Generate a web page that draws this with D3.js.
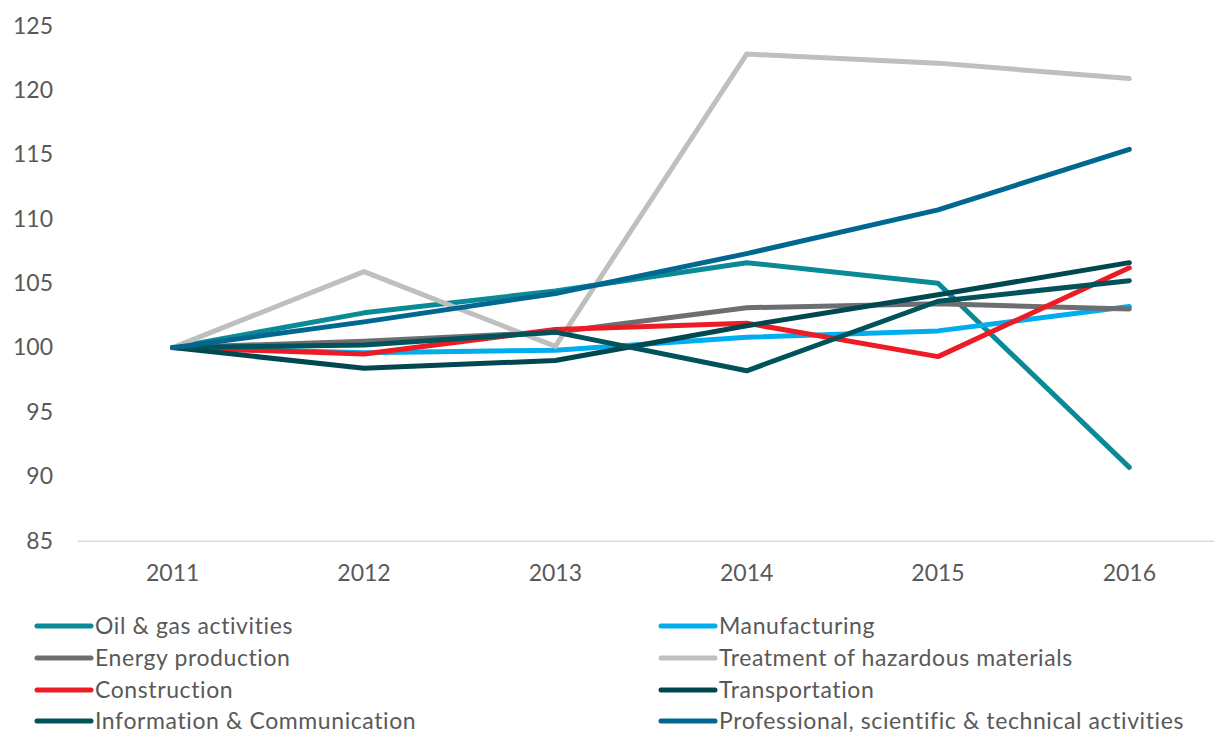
<!DOCTYPE html>
<html>
<head>
<meta charset="utf-8">
<script src="https://cdn.jsdelivr.net/npm/d3@7"></script>
<style>
  html, body { margin: 0; padding: 0; background: #ffffff; }
  svg { display: block; }
  text { font-family: Lato, "Open Sans", sans-serif; fill: #595959; }
</style>
</head>
<body>
<svg id="chart" width="1214" height="733"></svg>
<script>
const years = ["2011", "2012", "2013", "2014", "2015", "2016"];
const yTicks = [85, 90, 95, 100, 105, 110, 115, 120, 125];

const seriesNames = [
  "Oil & gas activities",
  "Manufacturing",
  "Energy production",
  "Treatment of hazardous materials",
  "Construction",
  "Transportation",
  "Information & Communication",
  "Professional, scientific & technical activities"
];
const seriesColors = ["#0A8A96", "#00AEEF", "#6D6E71", "#BFBFBF", "#ED1C24", "#00474F", "#00535B", "#006890"];

const oilGas         = [100, 102.7, 104.4, 106.6, 105.0, 90.7];
const manufacturing  = [100, 99.6, 99.8, 100.8, 101.3, 103.2];
const energy         = [100, 100.5, 101.2, 103.1, 103.4, 103.0];
const hazardous      = [100, 105.9, 100.1, 122.8, 122.1, 120.9];
const construction   = [100, 99.5, 101.4, 101.9, 99.3, 106.2];
const transportation = [100, 98.4, 99.0, 101.7, 104.1, 106.6];
const infoComm       = [100, 100.2, 101.2, 98.2, 103.6, 105.2];
const professional   = [100, 102.0, 104.2, 107.3, 110.7, 115.4];

const seriesValues = [oilGas, manufacturing, energy, hazardous, construction, transportation, infoComm, professional];

const svg = d3.select("#chart");

const x = d3.scaleBand().domain(years).range([77, 1225]).padding(0);
const y = d3.scaleLinear().domain([85, 125]).range([540.7, 25.8]);

// x axis
const xAxis = svg.append("g")
  .attr("transform", "translate(0,540.7)")
  .call(d3.axisBottom(x).tickSize(0).tickPadding(24));
xAxis.select(".domain").attr("stroke", "#D9D9D9").attr("stroke-width", 1.5);
xAxis.selectAll("text").style("font-size", "23px").attr("fill", "#595959");

// y axis (labels only)
const yAxis = svg.append("g")
  .attr("transform", "translate(53,0)")
  .call(d3.axisLeft(y).tickValues(yTicks).tickSize(0).tickPadding(0));
yAxis.select(".domain").remove();
yAxis.selectAll("text").style("font-size", "23px").attr("fill", "#595959");

// lines
const line = d3.line()
  .x((d, i) => x(years[i]) + x.bandwidth() / 2)
  .y(d => y(d));

svg.append("g").selectAll("path")
  .data(seriesValues)
  .join("path")
  .attr("d", d => line(d))
  .attr("fill", "none")
  .attr("stroke", (d, i) => seriesColors[i])
  .attr("stroke-width", 5)
  .attr("stroke-linecap", "round")
  .attr("stroke-linejoin", "round");

// legend
const legend = svg.append("g");
const colX = [37, 661];
const rowY = [626, 658, 690, 721];
seriesNames.forEach((name, i) => {
  const cx = colX[i % 2];
  const ry = rowY[Math.floor(i / 2)];
  legend.append("line")
    .attr("x1", cx).attr("x2", cx + 54)
    .attr("y1", ry).attr("y2", ry)
    .attr("stroke", seriesColors[i])
    .attr("stroke-width", 5)
    .attr("stroke-linecap", "round");
  legend.append("text")
    .attr("x", cx + 58)
    .attr("y", ry)
    .attr("dy", "0.35em")
    .style("font-size", "23px")
    .style("letter-spacing", "0.6px")
    .text(name);
});
</script>
</body>
</html>
